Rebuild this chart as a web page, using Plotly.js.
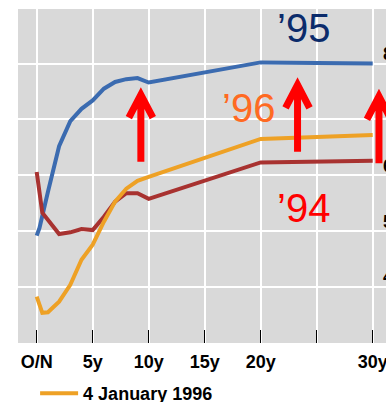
<!DOCTYPE html>
<html>
<head>
<meta charset="utf-8">
<script src="https://cdn.plot.ly/plotly-3.0.1.min.js"></script>
<style>
  html, body { margin: 0; padding: 0; overflow: hidden; background: #fff; }
  #chart { width: 400px; height: 402px; }
</style>
</head>
<body>
<div id="chart"></div>
<script>
// Yield curves (% p.a.) against maturity in years; 0 = overnight (O/N)
const maturities94 = [0, 0.5, 2, 3, 4, 5, 6, 7, 8, 9, 10, 20, 30];
const yields94     = [6.06, 5.33, 4.95, 4.98, 5.04, 5.02, 5.26, 5.53, 5.68, 5.68, 5.58, 6.23, 6.26];

const maturities95 = [0, 0.25, 1, 2, 3, 4, 5, 6, 7, 8, 9, 10, 20, 30];
const yields95     = [4.92, 5.06, 5.70, 6.52, 6.97, 7.19, 7.34, 7.55, 7.67, 7.72, 7.74, 7.66, 8.02, 8.00];

const maturities96 = [0, 0.5, 1, 2, 3, 4, 5, 6, 7, 8, 9, 10, 20, 30];
const yields96     = [3.83, 3.54, 3.55, 3.74, 4.04, 4.49, 4.76, 5.17, 5.53, 5.76, 5.90, 5.97, 6.65, 6.72];

const tickYears  = [0, 5, 10, 15, 20, 25, 30];
const tickLabels = ['O/N', '5y', '10y', '15y', '20y', '', '30y'];
const yieldTicks = [3, 4, 5, 6, 7, 8];

// Year markers and where the upward arrows stand (maturity, yield at arrow foot)
const yearLabels = [
  { text: '\u201995', x: 23.82, y: 8.64, color: '#0b2b6b' },
  { text: '\u201996', x: 18.91, y: 7.20, color: '#ff6a22' },
  { text: '\u201994', x: 23.78, y: 5.41, color: '#ff0000' }
];
const arrowFeet = [[9.30, 6.243], [23.29, 6.42], [30.56, 6.214]];

const boldFont = { family: 'Liberation Sans, Arial, sans-serif', size: 18, color: '#000', weight: 'bold' };

const traces = [
  { x: maturities95, y: yields95, name: '4 January 1995', mode: 'lines', showlegend: false,
    line: { color: '#3b6bb0', width: 4 } },
  { x: maturities94, y: yields94, name: '4 January 1994', mode: 'lines', showlegend: false,
    line: { color: '#a83230', width: 4 } },
  { x: maturities96, y: yields96, name: '4 January 1996', mode: 'lines',
    line: { color: '#eea125', width: 4 } }
];

const layout = {
  width: 400, height: 402,
  margin: { l: 18, r: 2, t: 9, b: 59, autoexpand: false },
  paper_bgcolor: '#ffffff',
  plot_bgcolor: '#d9d9d9',
  showlegend: true,
  legend: {
    orientation: 'h', x: 0.045, xanchor: 'left', y: -0.096, yanchor: 'top',
    itemwidth: 38,
    font: boldFont, bgcolor: 'rgba(0,0,0,0)'
  },
  xaxis: {
    range: [-1.67, 32.26], tickmode: 'array', tickvals: tickYears, ticktext: tickLabels,
    ticks: 'inside', ticklen: 13, tickwidth: 1.5, tickcolor: '#000', ticklabelstandoff: 6,
    showgrid: true, gridcolor: '#ffffff', gridwidth: 2, zeroline: false, showline: false,
    tickfont: boldFont, fixedrange: true
  },
  yaxis: {
    range: [3, 8.975], tickmode: 'array', tickvals: yieldTicks,
    side: 'right', ticklabelposition: 'inside', ticklabelshift: -10, ticklabelstandoff: 2, ticks: '',
    showgrid: true, gridcolor: '#ffffff', gridwidth: 2, zeroline: false, showline: false,
    tickfont: boldFont, fixedrange: true
  },
  annotations: yearLabels.map(l => ({
    text: l.text, x: l.x, y: l.y, xref: 'x', yref: 'y', showarrow: false,
    font: { family: 'Liberation Sans, Arial, sans-serif', size: 40, color: l.color }
  })),
  shapes: arrowFeet.map(([x, y]) => ({
    type: 'path', xref: 'x', yref: 'y', xsizemode: 'pixel', ysizemode: 'pixel',
    xanchor: x, yanchor: y, path: 'M0,0L0,67M-12,44L0,67L12,44',
    line: { color: '#ff0000', width: 7 }, layer: 'above'
  }))
};

Plotly.newPlot('chart', traces, layout, { displayModeBar: false, staticPlot: true });
</script>
</body>
</html>
